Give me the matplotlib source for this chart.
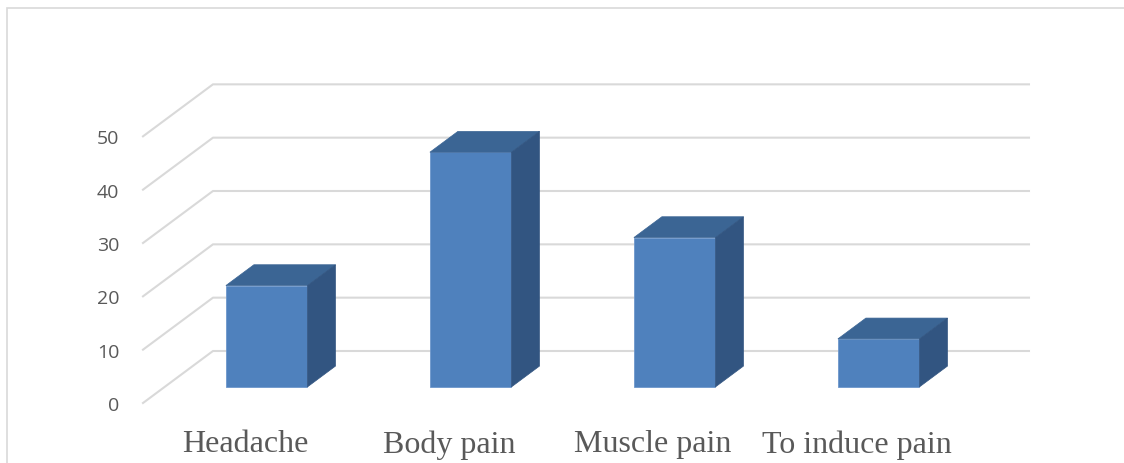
import matplotlib.pyplot as plt
from matplotlib.patches import Polygon, Rectangle

categories = ['Headache', 'Body pain', 'Muscle pain', 'To induce pain']
values = [19, 44, 28, 9]
y_ticks = [0, 10, 20, 30, 40, 50]

# oblique "3D" look: shift for the full floor depth, in data units
DEPTH_X = 0.343
DEPTH_Y = 9.75
BAR_Z = (0.31, 0.71)   # bar front / back as fraction of floor depth
BAR_W = 0.4

FRONT = '#4f81bd'
TOP = '#3b6594'
SIDE = '#325581'
GRID = '#d9d9d9'
TEXT = '#595959'

fig = plt.figure(figsize=(11.24, 4.64), dpi=100)
ax = fig.add_axes([143 / 1124, 60 / 464, 816 / 1124, 320 / 464])
ax.set_xlim(-0.5, len(categories) - 0.5)
ax.set_ylim(0, 60)

# gridlines: diagonal on the side wall, then along the back wall
x0, x1 = ax.get_xlim()
for v in y_ticks:
    ax.plot([x0, x0 + DEPTH_X, x1 + DEPTH_X], [v, v + DEPTH_Y, v + DEPTH_Y],
            color=GRID, lw=1.5, clip_on=False, zorder=1)

z0, z1 = BAR_Z
dz = z1 - z0
for i, v in enumerate(values):
    xc = i + z0 * DEPTH_X
    base = z0 * DEPTH_Y
    ax.bar(xc, v, width=BAR_W, bottom=base, color=FRONT,
           edgecolor='#6d97cc', lw=0.6, zorder=3, clip_on=False)
    xl, xr = xc - BAR_W / 2, xc + BAR_W / 2
    top = base + v
    ox, oy = dz * DEPTH_X, dz * DEPTH_Y
    ax.add_patch(Polygon([(xl, top), (xr, top), (xr + ox, top + oy), (xl + ox, top + oy)],
                         closed=True, fc=TOP, ec=TOP, lw=0.5, zorder=3, clip_on=False))
    ax.add_patch(Polygon([(xr, base), (xr + ox, base + oy), (xr + ox, top + oy), (xr, top)],
                         closed=True, fc=SIDE, ec=SIDE, lw=0.5, zorder=3, clip_on=False))

ax.set_yticks(y_ticks)
ax.set_yticklabels([str(t) for t in y_ticks], fontfamily='Open Sans', fontsize=14, color=TEXT)
ax.set_xticks(range(len(categories)))
ax.set_xticklabels(categories, fontfamily='Liberation Serif', fontsize=23, color=TEXT)
ax.tick_params(axis='y', length=0, pad=17)
ax.tick_params(axis='x', length=0, pad=19)
for s in ax.spines.values():
    s.set_visible(False)
ax.patch.set_visible(False)

# chart-area border
fig.add_artist(Rectangle((7 / 1124, -0.1), 1.2, 0.1 + 455 / 464, transform=fig.transFigure,
                         fill=False, ec=GRID, lw=1.2))

fig.savefig('out.png', dpi=100)
